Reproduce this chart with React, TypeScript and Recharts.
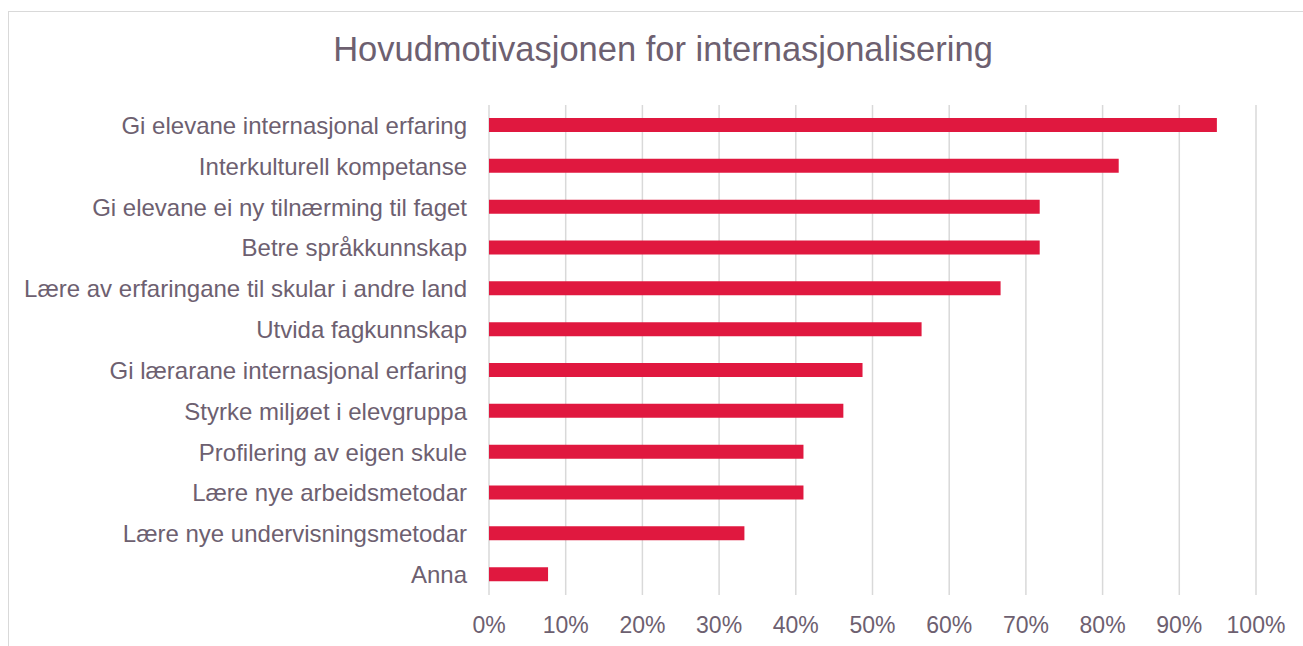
import React from 'react';
import { BarChart, Bar, XAxis, YAxis, CartesianGrid } from 'recharts';

const categories = [
  'Gi elevane internasjonal erfaring',
  'Interkulturell kompetanse',
  'Gi elevane ei ny tilnærming til faget',
  'Betre språkkunnskap',
  'Lære av erfaringane til skular i andre land',
  'Utvida fagkunnskap',
  'Gi lærarane internasjonal erfaring',
  'Styrke miljøet i elevgruppa',
  'Profilering av eigen skule',
  'Lære nye arbeidsmetodar',
  'Lære nye undervisningsmetodar',
  'Anna',
];

const shares = [94.9, 82.1, 71.8, 71.8, 66.7, 56.4, 48.7, 46.2, 41.0, 41.0, 33.3, 7.7];

const xTicks = [0, 10, 20, 30, 40, 50, 60, 70, 80, 90, 100];

const title = 'Hovudmotivasjonen for internasjonalisering';

const data = categories.map((name, i) => ({ name, value: shares[i] }));

const textColor = '#6D6070';
const font = '"Liberation Sans", Arial, sans-serif';

const App: React.FC = () => {
  return (
    <div style={{ position: 'absolute', left: 0, top: 0, width: 1303, height: 646, overflow: 'hidden', background: '#fff' }}>
      <div
        style={{
          position: 'absolute',
          left: 8,
          top: 11,
          width: 1310,
          height: 660,
          border: '1px solid #D9D9D9',
          boxSizing: 'border-box',
        }}
      />
      <div
        style={{
          position: 'absolute',
          left: 0,
          top: 32,
          width: 1326,
          textAlign: 'center',
          fontFamily: font,
          fontSize: 34.5,
          lineHeight: '34px',
          color: textColor,
          whiteSpace: 'nowrap',
        }}
      >
        {title}
      </div>
      <div style={{ position: 'absolute', left: 0, top: 0 }}>
        <BarChart
          width={1303}
          height={646}
          data={data}
          layout="vertical"
          margin={{ top: 105, right: 47, bottom: 0, left: 0 }}
          barCategoryGap={0}
        >
          <CartesianGrid horizontal={false} vertical stroke="#D9D9D9" strokeWidth={1.5} />
          <XAxis
            type="number"
            domain={[0, 100]}
            ticks={xTicks}
            interval={0}
            tickFormatter={(v: number) => `${v}%`}
            axisLine={false}
            tickLine={false}
            tickSize={0}
            tickMargin={22}
            height={51}
            tick={{ fill: textColor, fontSize: 23, fontFamily: font }}
          />
          <YAxis
            type="category"
            dataKey="name"
            width={489}
            interval={0}
            axisLine={false}
            tickLine={false}
            tickSize={0}
            tickMargin={22}
            tick={{ fill: textColor, fontSize: 24, fontFamily: font }}
          />
          <Bar dataKey="value" fill="#E0183F" barSize={14} isAnimationActive={false} />
        </BarChart>
      </div>
    </div>
  );
};

export default App;
